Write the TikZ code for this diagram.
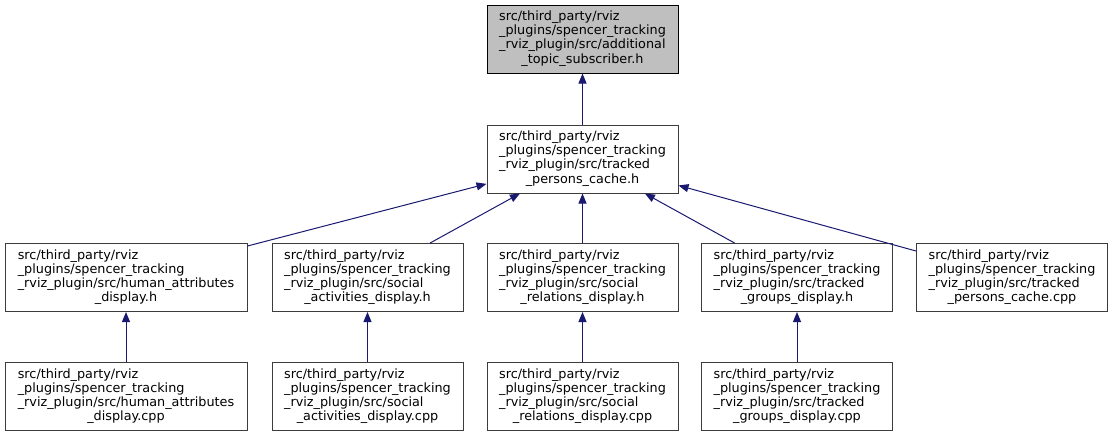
\documentclass[tikz,border=0pt]{standalone}
\usepackage{fontspec}
\setmainfont{DejaVu Sans}
\usetikzlibrary{arrows.meta}
\definecolor{edgeblue}{RGB}{25,25,112}
\definecolor{boxgrey}{RGB}{60,60,60}
\definecolor{rootfill}{RGB}{191,191,191}
\newcommand{\flbl}[4]{\begin{tabular}{@{}l@{}}#1\\#2\\#3\\\multicolumn{1}{@{}c@{}}{#4}\end{tabular}}
\tikzset{
    filebox/.style={draw=boxgrey, fill=white, line width=0.75pt, inner sep=0pt,
        minimum width=143.25pt, minimum height=51pt,
        font=\fontsize{9.6}{10.6}\selectfont},
    widebox/.style={filebox, minimum width=181.5pt},
    rootbox/.style={filebox, draw=black, fill=rootfill},
    incl/.style={draw=edgeblue, line width=0.75pt, -{Triangle[length=7.5pt,width=6pt]}}
}
\begin{document}
\begin{tikzpicture}[x=0.75pt, y=-0.75pt]
    \useasboundingbox (0,0) rectangle (1113,437);
    % headers
    \node [rootbox] (subscriber) at (582.5,39) {\flbl{src/third\_party/rviz}{\_plugins/spencer\_tracking}{\_rviz\_plugin/src/additional}{\_topic\_subscriber.h}};
    \node [filebox] (cacheh) at (582.5,159) {\flbl{src/third\_party/rviz}{\_plugins/spencer\_tracking}{\_rviz\_plugin/src/tracked}{\_persons\_cache.h}};
    \node [widebox] (humanh) at (126,277.5) {\flbl{src/third\_party/rviz}{\_plugins/spencer\_tracking}{\_rviz\_plugin/src/human\_attributes}{\_display.h}};
    \node [filebox] (activh) at (367.5,277.5) {\flbl{src/third\_party/rviz}{\_plugins/spencer\_tracking}{\_rviz\_plugin/src/social}{\_activities\_display.h}};
    \node [filebox] (relath) at (582.5,277.5) {\flbl{src/third\_party/rviz}{\_plugins/spencer\_tracking}{\_rviz\_plugin/src/social}{\_relations\_display.h}};
    \node [filebox] (groupsh) at (797,277.5) {\flbl{src/third\_party/rviz}{\_plugins/spencer\_tracking}{\_rviz\_plugin/src/tracked}{\_groups\_display.h}};
    \node [filebox] (cachecpp) at (1012,277.5) {\flbl{src/third\_party/rviz}{\_plugins/spencer\_tracking}{\_rviz\_plugin/src/tracked}{\_persons\_cache.cpp}};
    % sources
    \node [widebox] (humancpp) at (126,396.5) {\flbl{src/third\_party/rviz}{\_plugins/spencer\_tracking}{\_rviz\_plugin/src/human\_attributes}{\_display.cpp}};
    \node [filebox] (activcpp) at (367.5,396.5) {\flbl{src/third\_party/rviz}{\_plugins/spencer\_tracking}{\_rviz\_plugin/src/social}{\_activities\_display.cpp}};
    \node [filebox] (relatcpp) at (582.5,396.5) {\flbl{src/third\_party/rviz}{\_plugins/spencer\_tracking}{\_rviz\_plugin/src/social}{\_relations\_display.cpp}};
    \node [filebox] (groupscpp) at (797,396.5) {\flbl{src/third\_party/rviz}{\_plugins/spencer\_tracking}{\_rviz\_plugin/src/tracked}{\_groups\_display.cpp}};
    % includes
    \draw [incl] (cacheh) -- (subscriber);
    \draw [incl] (humanh) -- (cacheh);
    \draw [incl] (activh) -- (cacheh);
    \draw [incl] (relath) -- (cacheh);
    \draw [incl] (groupsh) -- (cacheh);
    \draw [incl] (cachecpp) -- (cacheh);
    \draw [incl] (humancpp) -- (humanh);
    \draw [incl] (activcpp) -- (activh);
    \draw [incl] (relatcpp) -- (relath);
    \draw [incl] (groupscpp) -- (groupsh);
\end{tikzpicture}
\end{document}
